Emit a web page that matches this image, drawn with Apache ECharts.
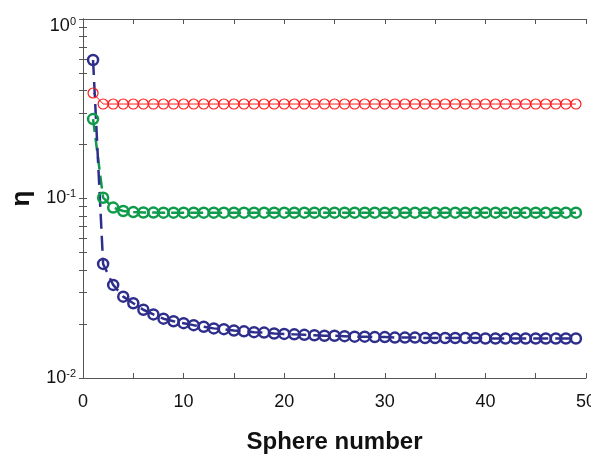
<!DOCTYPE html>
<html><head><meta charset="utf-8">
<script src="https://cdn.jsdelivr.net/npm/echarts@6/dist/echarts.min.js"></script>
<style>html,body{margin:0;padding:0;background:#fff}#c{width:591px;height:455px}</style>
</head><body><div id="c"></div>
<script>
const sphereNumbers = Array.from({length: 49}, (_, i) => i + 1);
const redValues = [0.387].concat(new Array(48).fill(0.336));
const greenValues = [0.277, 0.101, 0.089, 0.0852, 0.0840, 0.0836, 0.0835, 0.0834, 0.0834, 0.0834,
  0.0834, 0.0834, 0.0834, 0.0834, 0.0834, 0.0834, 0.0834, 0.0834, 0.0834, 0.0834,
  0.0834, 0.0834, 0.0834, 0.0834, 0.0834, 0.0834, 0.0834, 0.0834, 0.0834, 0.0834,
  0.0834, 0.0834, 0.0834, 0.0834, 0.0834, 0.0834, 0.0834, 0.0834, 0.0834, 0.0834,
  0.0834, 0.0834, 0.0834, 0.0834, 0.0834, 0.0834, 0.0834, 0.0834, 0.0834];
const blueValues = [0.591, 0.0432, 0.0330, 0.0284, 0.0261, 0.0240, 0.0226, 0.0214, 0.0207, 0.0202,
  0.0197, 0.0193, 0.0189, 0.0187, 0.0184, 0.0182, 0.0180, 0.0179, 0.0177, 0.0176,
  0.0175, 0.0174, 0.0173, 0.0172, 0.0172, 0.0171, 0.0170, 0.0170, 0.0169, 0.0169,
  0.0168, 0.0168, 0.0168, 0.0167, 0.0167, 0.0167, 0.0167, 0.0167, 0.0167, 0.0166,
  0.0166, 0.0166, 0.0166, 0.0166, 0.0166, 0.0166, 0.0166, 0.0166, 0.0166];
const xTickValues = [0, 5, 10, 15, 20, 25, 30, 35, 40, 45, 50];
const yTickValues = [0.01, 0.02, 0.03, 0.04, 0.05, 0.06, 0.07, 0.08, 0.09, 0.1,
  0.2, 0.3, 0.4, 0.5, 0.6, 0.7, 0.8, 0.9, 1];

const axisColor = '#555';
const font = '"Liberation Sans", Arial, sans-serif';
const pairs = vals => sphereNumbers.map((x, i) => [x, vals[i]]);

function mkSeries(name, vals, color, lw, bw, dash) {
  return {
    name, type: 'line', data: pairs(vals),
    symbol: 'circle', symbolSize: 10,
    itemStyle: {color: 'rgba(255,255,255,0)', borderColor: color, borderWidth: bw},
    lineStyle: {color, width: lw, type: dash},
    emphasis: {disabled: true}
  };
}

const chart = echarts.init(document.getElementById('c'), null, {renderer: 'canvas'});
chart.setOption({
  animation: false,
  backgroundColor: '#fff',
  grid: {left: 83, right: 5, top: 19, bottom: 77, containLabel: false, outerBoundsMode: 'none'},
  xAxis: [
    {type: 'value', min: 0, max: 50, interval: 10, position: 'bottom',
     name: 'Sphere number', nameLocation: 'middle', nameGap: 52,
     nameTextStyle: {fontFamily: font, fontWeight: 'bold', fontSize: 24, color: '#111'},
     axisLine: {show: true, lineStyle: {color: axisColor, width: 1}},
     axisTick: {show: true, inside: true, length: 5, customValues: xTickValues, lineStyle: {color: axisColor}},
     axisLabel: {fontFamily: font, fontSize: 18, color: '#111', margin: 15},
     splitLine: {show: false}},
    {type: 'value', min: 0, max: 50, interval: 10, position: 'top',
     axisLine: {show: true, lineStyle: {color: axisColor, width: 1}},
     axisTick: {show: true, inside: true, length: 5, customValues: xTickValues, lineStyle: {color: axisColor}},
     axisLabel: {show: false}, splitLine: {show: false}}
  ],
  yAxis: [
    {type: 'log', logBase: 10, min: 0.01, max: 1, interval: 1, position: 'left',
     name: 'η', nameLocation: 'middle', nameGap: 46, nameRotate: 90,
     nameTextStyle: {fontFamily: font, fontWeight: 'bold', fontSize: 26, color: '#111'},
     axisLine: {show: true, lineStyle: {color: axisColor, width: 1}},
     axisTick: {show: true, inside: true, length: 4, customValues: yTickValues, lineStyle: {color: axisColor}},
     axisLabel: {
       margin: 7,
       formatter: v => {
         const e = Math.round(Math.log10(v));
         return e === 0 ? '{bt|10}{st|' + e + '}' : '{b|10}{s|' + e + '}';
       },
       rich: {
         b: {fontFamily: font, fontSize: 18, color: '#111'},
         bt: {fontFamily: font, fontSize: 18, color: '#111', padding: [14, 0, 0, 0]},
         s: {fontFamily: font, fontSize: 11, color: '#111', padding: [0, 0, 9, 0]},
         st: {fontFamily: font, fontSize: 11, color: '#111', padding: [14, 0, 9, 0]}
       }
     },
     splitLine: {show: false}},
    {type: 'log', logBase: 10, min: 0.01, max: 1, interval: 1, position: 'right',
     axisLine: {show: true, lineStyle: {color: axisColor, width: 1}},
     axisTick: {show: true, inside: true, length: 4, customValues: yTickValues, lineStyle: {color: axisColor}},
     axisLabel: {show: false}, splitLine: {show: false}}
  ],
  series: [
    mkSeries('red', redValues, '#ff1a1a', 1, 1.2, 'solid'),
    mkSeries('green', greenValues, '#0f9a4c', 2.5, 2.5, [13, 6]),
    mkSeries('blue', blueValues, '#2e2e8c', 2.5, 2.5, [15, 7])
  ]
});
</script></body></html>
